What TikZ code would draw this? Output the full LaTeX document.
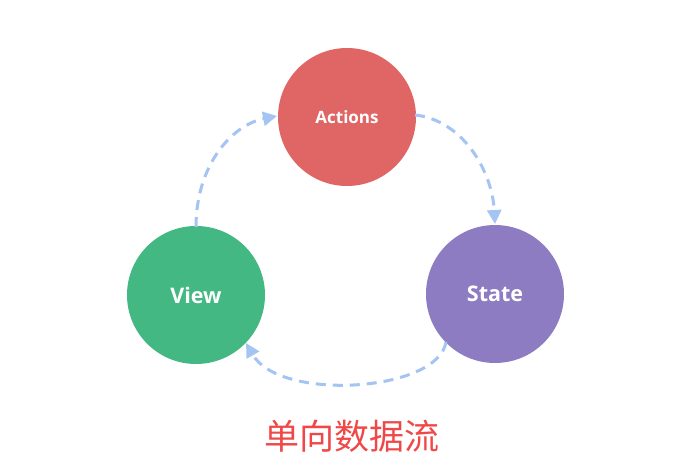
\documentclass[tikz,border=0pt]{standalone}
\usepackage{fontspec}
\newfontfamily\labelfont{Open Sans}
\newfontfamily\cjk{Noto Sans CJK SC}
\usetikzlibrary{arrows.meta}
\definecolor{actc}{HTML}{E06666}
\definecolor{viewc}{HTML}{43B883}
\definecolor{statec}{HTML}{8E7CC3}
\definecolor{flowc}{HTML}{A4C4F4}
\definecolor{titlec}{HTML}{F04848}
\tikzset{
  ball/.style={circle, minimum size=138pt, inner sep=0pt, text=white, font=\labelfont\bfseries},
  flow/.style={draw=flowc, line width=3pt, dash pattern=on 10pt off 7pt, -{Triangle[length=14pt,width=14pt]}},
}
\begin{document}
\begin{tikzpicture}[x=1pt,y=-1pt]
\useasboundingbox (0,0) rectangle (692,465);
\fill[white] (0,0) rectangle (692,465);
\node[ball, fill=actc, font=\labelfont\bfseries\fontsize{17}{20}\selectfont] (actions) at (347,117) {Actions};
\node[ball, fill=viewc, font=\labelfont\bfseries\fontsize{21.5}{24}\selectfont] (view) at (196,295) {View};
\node[ball, fill=statec, font=\labelfont\bfseries\fontsize{21.5}{24}\selectfont] (state) at (495,294) {State};
\coordinate (v1) at (196,227);
\coordinate (a1) at (277,116);
\coordinate (a2) at (415,115);
\coordinate (s1) at (495,224);
\coordinate (s2) at (446,342);
\coordinate (v2) at (246,343);
\draw[flow] (v1) .. controls (196,165) and (232,125) .. (a1);
\draw[flow] (a2) .. controls (462,120) and (492,170) .. (s1);
\draw[flow] (s2) .. controls (438,392) and (280,402) .. (v2);
\node[text=titlec, font=\cjk\fontsize{35}{40}\selectfont] (title) at (352,436) {单向数据流};
\end{tikzpicture}
\end{document}
